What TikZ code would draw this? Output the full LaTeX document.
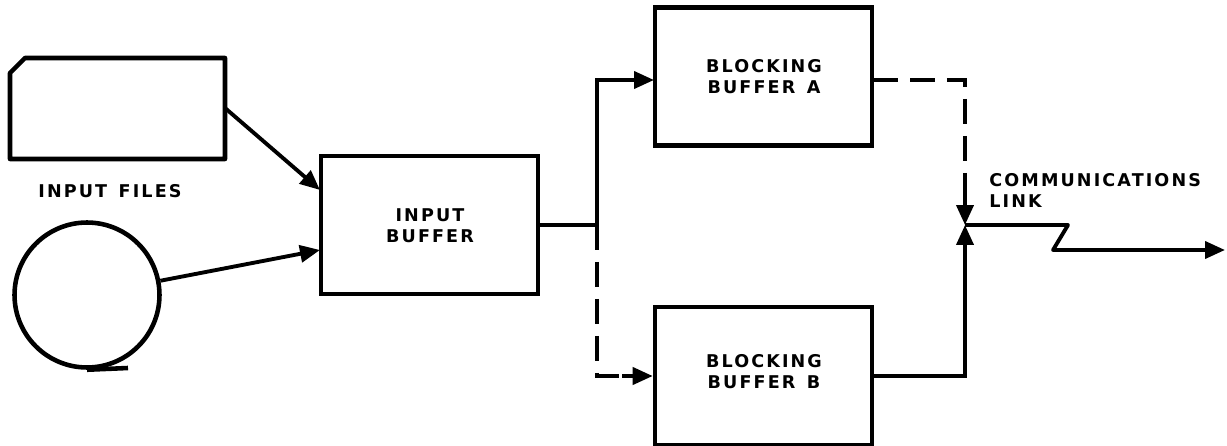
\documentclass[tikz,border=0pt]{standalone}
\usepackage{fontspec}
\setmainfont{DejaVu Sans}[LetterSpace=12,WordSpace=1.4]
\usetikzlibrary{arrows.meta,positioning}
\tikzset{
  boxnode/.style={draw,line width=2.6pt,minimum width=4.34cm,minimum height=2.76cm,align=center,inner sep=0pt},
  labelnode/.style={font=\fontsize{10}{12}\selectfont\bfseries,align=center,inner sep=0pt},
  flow/.style={line width=2.2pt,-{Triangle[length=4mm,width=3.4mm]}},
  link/.style={line width=2.2pt},
  dashlink/.style={line width=2.2pt,dash pattern=on 0.5cm off 0.24cm}
}
\begin{document}
\begin{tikzpicture}[x=0.02cm,y=-0.02cm]
  \useasboundingbox[fill=white] (0,0) rectangle (1227,446);
  % Input files
  \draw[line width=2.6pt,line join=round] (10,73) -- (25,58) -- (225,58) -- (225,159) -- (10,159) -- cycle;
  \coordinate (cardout) at (225,108);
  \node[labelnode] (filesl) at (110,191) {INPUT FILES};
  \node[circle,draw,line width=2.6pt,minimum size=2.9cm,inner sep=0pt] (tape) at (87,295) {};
  \coordinate (tapeend) at (128,368);
  \draw[line width=2.6pt] (tape.south) -- (tapeend);
  % Buffers
  \node[boxnode] (inbuf) at (429.5,225) {};
  \node[boxnode] (bufa) at (763.5,76.5) {};
  \node[boxnode] (bufb) at (763.5,376) {};
  \node[labelnode] (inbufl) at (430,226) {INPUT\\BUFFER};
  \node[labelnode] (bufal) at (764,77) {BLOCKING\\BUFFER A};
  \node[labelnode] (bufbl) at (764,372) {BLOCKING\\BUFFER B};
  % Input side
  \coordinate (inup) at (320,190);
  \coordinate (indown) at (320,250);
  \draw[flow] (cardout) -- (inup);
  \draw[flow] (tape.11) -- (indown);
  % Split
  \coordinate (split) at (597,225);
  \coordinate (splitup) at (597,80);
  \coordinate (splitdown) at (597,376);
  \coordinate (dashtip) at (622,376);
  \coordinate (ain) at (654,80);
  \coordinate (aout) at (873,80);
  \draw[link] (inbuf.east) -- (split);
  \draw[flow] (split) -- (splitup) -- (ain);
  \draw[dashlink] (split) -- (splitdown) -- (dashtip);
  \draw[flow] (dashtip) -- (bufb.west);
  % Merge
  \coordinate (merge) at (965,225);
  \coordinate (mergeup) at (965,80);
  \coordinate (mergedown) at (965,376);
  \coordinate (mergedash) at (965,196);
  \draw[dashlink] (aout) -- (mergeup) -- (mergedash);
  \draw[flow] (mergedash) -- (merge);
  \draw[flow] (bufb.east) -- (mergedown) -- (merge);
  % Communications link
  \coordinate (kneea) at (1068,225);
  \coordinate (kneeb) at (1053,250);
  \coordinate (linkend) at (1225,250);
  \draw[flow,line join=round] (merge) -- (kneea) -- (kneeb) -- (linkend);
  \node[labelnode,align=left,anchor=north west] (linkl) at (989,173) {COMMUNICATIONS\\LINK};
\end{tikzpicture}
\end{document}
